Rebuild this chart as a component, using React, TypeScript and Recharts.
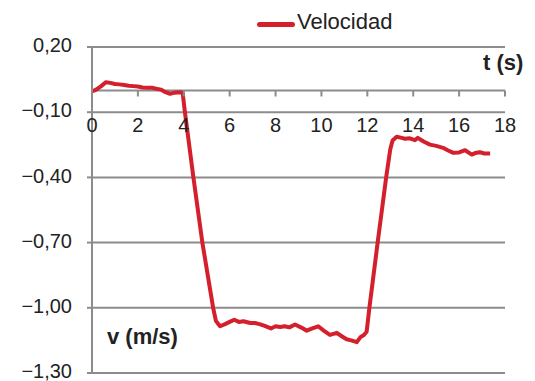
import React from "react";
import {
  LineChart,
  Line,
  XAxis,
  YAxis,
  CartesianGrid,
  ReferenceLine,
  Legend,
} from "recharts";

const timeS = [
  0, 0.2, 0.4, 0.6, 0.8, 1.0, 1.2, 1.4, 1.6, 1.8, 2.0, 2.2, 2.4, 2.6, 2.8, 3.0,
  3.2, 3.4, 3.6, 3.8, 3.95, 4.05, 4.42, 4.81, 5.17, 5.28, 5.4, 5.58, 5.8, 6.0,
  6.2, 6.4, 6.6, 6.9, 7.1, 7.3, 7.5, 7.8, 8.0, 8.2, 8.4, 8.6, 8.85, 9.1, 9.36,
  9.6, 9.86, 10.1, 10.37, 10.67, 10.9, 11.1, 11.3, 11.54, 11.7, 11.85, 11.97,
  12.09, 12.45, 12.82, 13.0, 13.1, 13.28, 13.5, 13.64, 13.85, 14.07, 14.2, 14.45,
  14.73, 15.0, 15.3, 15.5, 15.75, 16.0, 16.26, 16.55, 16.7, 16.9, 17.1, 17.35,
];

const velocidad = [
  -0.005, 0.005, 0.02, 0.038, 0.035, 0.03, 0.028, 0.025, 0.022, 0.02, 0.018,
  0.014, 0.012, 0.013, 0.008, 0.004, -0.008, -0.015, -0.01, -0.008, -0.01,
  -0.1, -0.4, -0.7, -0.93, -1.0, -1.06, -1.085, -1.075, -1.065, -1.055, -1.065,
  -1.062, -1.07, -1.07, -1.075, -1.082, -1.095, -1.085, -1.088, -1.085, -1.09,
  -1.077, -1.09, -1.105, -1.095, -1.085, -1.105, -1.125, -1.115, -1.132, -1.145,
  -1.15, -1.158, -1.135, -1.125, -1.11, -1.0, -0.7, -0.4, -0.27, -0.23, -0.213,
  -0.218, -0.222, -0.22, -0.229, -0.218, -0.235, -0.249, -0.255, -0.264, -0.275,
  -0.287, -0.285, -0.275, -0.295, -0.288, -0.284, -0.29, -0.29,
];

const xTicks = [0, 2, 4, 6, 8, 10, 12, 14, 16, 18];
const yTicks = [-1.3, -1.0, -0.7, -0.4, -0.1, 0.2];
const seriesName = "Velocidad";

const data = timeS.map((t, i) => ({ t, v: velocidad[i] }));

const W = 535;
const H = 381;
const M_TOP = 47;
const X_AXIS_H = 8;
const Y_MIN = -1.3;
const Y_MAX = 0.2;
const PLOT_H = H - M_TOP - X_AXIS_H;
const ZERO_Y = M_TOP + (PLOT_H * (Y_MAX - 0)) / (Y_MAX - Y_MIN);

const FONT = "'Liberation Sans', Arial, sans-serif";
const RED = "#d41f2c";
const GRAY = "#8c8c8c";

const fmt = (v: number) => {
  const s = Math.abs(v).toFixed(2).replace(".", ",");
  return v < 0 ? "\u2212" + s : s;
};

const XTick = (props: any) => {
  const { x, payload } = props;
  return (
    <g>
      <line x1={x} x2={x} y1={ZERO_Y} y2={ZERO_Y + 6} stroke={GRAY} strokeWidth={2} />
      <text
        x={x}
        y={ZERO_Y + 42}
        textAnchor="middle"
        fontFamily={FONT}
        fontSize={20}
        fill="#222"
      >
        {payload.value}
      </text>
    </g>
  );
};

const YTick = (props: any) => {
  const { x, y, payload } = props;
  return (
    <text
      x={x}
      y={y - 2}
      dy="0.355em"
      textAnchor="end"
      fontFamily={FONT}
      fontSize={20}
      fill="#222"
    >
      {fmt(payload.value)}
    </text>
  );
};

const LegendContent = (props: any) => {
  const { payload } = props;
  return (
    <div style={{ display: "flex", alignItems: "center", fontFamily: FONT }}>
      {(payload || []).map((p: any) => (
        <div key={p.value} style={{ display: "flex", alignItems: "center" }}>
          <span
            style={{
              display: "inline-block",
              width: 38,
              height: 5,
              borderRadius: 3,
              background: RED,
              marginRight: 2,
              marginTop: 4,
            }}
          />
          <span style={{ fontSize: 22, color: "#222", lineHeight: "24px" }}>{p.value}</span>
        </div>
      ))}
    </div>
  );
};

export default function App() {
  return (
    <div style={{ position: "absolute", left: 0, top: 0, width: W, height: H, background: "#fff" }}>
      <LineChart
        width={W}
        height={H}
        data={data}
        margin={{ top: M_TOP, right: 30, bottom: 0, left: 0 }}
      >
        <CartesianGrid horizontal vertical={false} stroke={GRAY} strokeWidth={2} />
        <XAxis
          dataKey="t"
          type="number"
          domain={[0, 18]}
          ticks={xTicks}
          height={X_AXIS_H}
          axisLine={false}
          tickLine={false}
          tick={<XTick />}
          interval={0}
        />
        <YAxis
          type="number"
          domain={[Y_MIN, Y_MAX]}
          ticks={yTicks}
          width={92}
          axisLine={{ stroke: GRAY, strokeWidth: 2 }}
          tickLine={{ stroke: GRAY, strokeWidth: 2 }}
          tickSize={5}
          tickMargin={15}
          tick={<YTick />}
          interval={0}
        />
        <ReferenceLine y={0} stroke={GRAY} strokeWidth={2} />
        <Legend
          layout="horizontal"
          verticalAlign="middle"
          align="center"
          wrapperStyle={{ top: 10, left: 257, width: "auto" }}
          content={<LegendContent />}
        />
        <Line
          type="linear"
          dataKey="v"
          name={seriesName}
          stroke={RED}
          strokeWidth={4}
          dot={false}
          isAnimationActive={false}
          strokeLinejoin="round"
        />
      </LineChart>
      <div
        style={{
          position: "absolute",
          left: 483,
          top: 50,
          fontFamily: FONT,
          fontSize: 22,
          fontWeight: "bold",
          color: "#222",
          lineHeight: "26px",
          whiteSpace: "nowrap",
        }}
      >
        t (s)
      </div>
      <div
        style={{
          position: "absolute",
          left: 107,
          top: 324,
          fontFamily: FONT,
          fontSize: 22,
          fontWeight: "bold",
          color: "#222",
          lineHeight: "26px",
          whiteSpace: "nowrap",
        }}
      >
        v (m/s)
      </div>
    </div>
  );
}
